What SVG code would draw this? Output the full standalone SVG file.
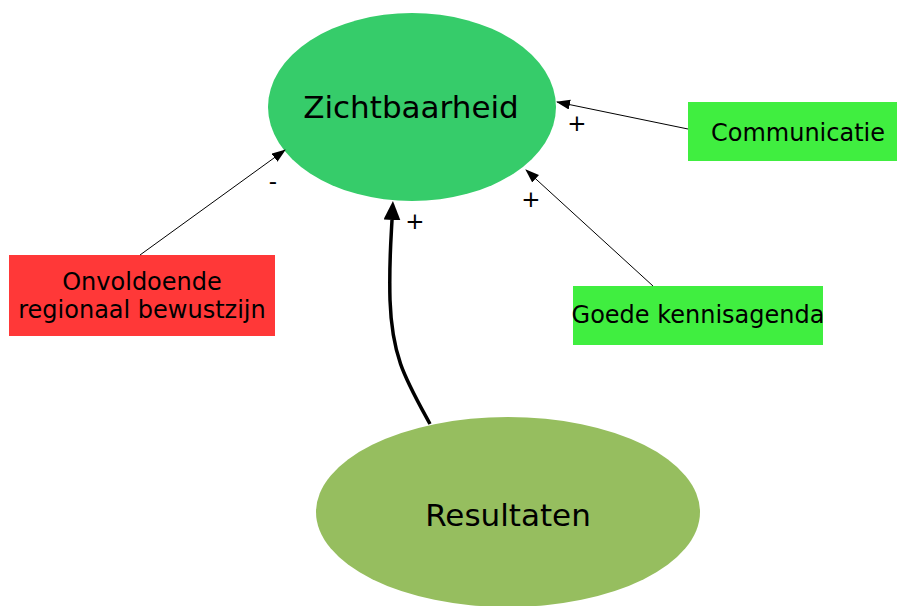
<svg xmlns="http://www.w3.org/2000/svg" width="897" height="606" viewBox="0 0 897 606">
<style>
text{font-family:"DejaVu Sans","Verdana",sans-serif;fill:#000}
.lbl{font-size:24px;text-anchor:middle}
.sign{font-size:23px;text-anchor:middle}
.thin{stroke:#000;stroke-width:1;fill:none}
.thick{stroke:#000;stroke-width:3.5;fill:none}
</style>
<defs>
<marker id="ah" markerUnits="userSpaceOnUse" markerWidth="14" markerHeight="11" refX="13" refY="5" orient="auto">
<path d="M0,0 L14,5 L0,10 Z" fill="#000"/>
</marker>
<marker id="ahb" markerUnits="userSpaceOnUse" markerWidth="20" markerHeight="20" refX="0" refY="8.5" orient="auto">
<path d="M0,0 L19,8.5 L0,17 Z" fill="#000"/>
</marker>
</defs>
<rect width="897" height="606" fill="#fff"/>
<g id="zichtbaarheid">
<ellipse cx="412" cy="107" rx="144" ry="94" fill="#36CC6A"/>
<text x="411" y="118" style="font-size:31px;text-anchor:middle">Zichtbaarheid</text>
</g>
<g id="resultaten">
<ellipse cx="508" cy="512" rx="192" ry="95" fill="#96BE5F"/>
<text x="508" y="526" style="font-size:31px;text-anchor:middle">Resultaten</text>
</g>
<g id="onvoldoende">
<rect x="9" y="255" width="266" height="81" fill="#FF3838"/>
<text x="142" y="290" class="lbl">Onvoldoende</text>
<text x="142" y="318" class="lbl">regionaal bewustzijn</text>
</g>
<g id="communicatie">
<rect x="688" y="102" width="209" height="59" fill="#40EE40"/>
<text x="798" y="141" class="lbl">Communicatie</text>
</g>
<g id="goede">
<rect x="573" y="286" width="250" height="59" fill="#40EE40"/>
<text x="698" y="323" class="lbl">Goede kennisagenda</text>
</g>
<g id="connectors">
<line class="thin" x1="140" y1="255" x2="285" y2="150" marker-end="url(#ah)"/>
<line class="thin" x1="688" y1="129" x2="557" y2="102" marker-end="url(#ah)"/>
<line class="thin" x1="653" y1="286" x2="526" y2="170" marker-end="url(#ah)"/>
<path class="thick" d="M430,424 C406,380 392,358 390,300 C389,262 391,240 392,220" marker-end="url(#ahb)"/>
<text x="273" y="189" class="sign">-</text>
<text x="577" y="131" class="sign">+</text>
<text x="531" y="207" class="sign">+</text>
<text x="415" y="229" class="sign">+</text>
</g>
</svg>
